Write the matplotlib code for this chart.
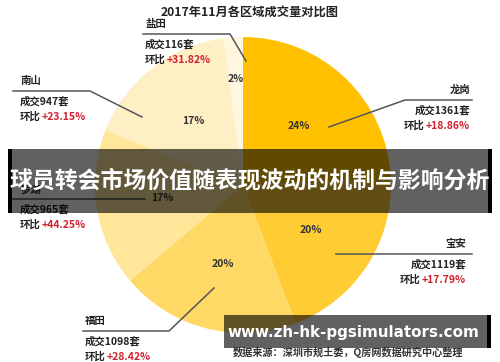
import matplotlib
matplotlib.use('Agg')
from matplotlib import pyplot as plt
from matplotlib.lines import Line2D
from matplotlib.patches import Rectangle

plt.rcParams['font.family'] = ['Noto Sans CJK SC', 'DejaVu Sans']

# data
districts = ['龙岗', '宝安', '福田', '罗湖', '南山', '盐田']
deals = [1361, 1119, 1098, 965, 947, 116]
mom = ['+18.86%', '+17.79%', '+28.42%', '+44.25%', '+23.15%', '+31.82%']
colors = ['#FFC000', '#FFCC33', '#FFD966', '#FFE699', '#FFEFC4', '#FFF6E0']

W, H = 500, 362
fig = plt.figure(figsize=(W / 100, H / 100), dpi=100)

def fx(x):
    return x / W

def fy(y):
    return 1 - y / H

# pie centred at (243, 185) px, radius 148 px
cx, cy, r = 243, 185, 148
ax = fig.add_axes([fx(cx - r), fy(cy + r), 2 * r / W, 2 * r / H])
wedges, texts, autotexts = ax.pie(deals, colors=colors, startangle=90, counterclock=False,
                                  autopct=lambda p: f'{p:.0f}%', pctdistance=0.55,
                                  wedgeprops=dict(linewidth=0),
                                  textprops=dict(fontsize=7.5, fontweight='bold', color='#333333'))
ax.set_xlim(-1, 1)
ax.set_ylim(-1, 1)
ax.set_aspect('auto')
ax.axis('off')
# the tiny slice label sits further out
t = autotexts[-1]
x0, y0 = t.get_position()
t.set_position((x0 / 0.55 * 0.72, y0 / 0.55 * 0.72))

fig.text(0.5, fy(12), '2017年11月各区域成交量对比图', ha='center', va='center',
         fontsize=8.8, fontweight='bold', color='#222222')

red = '#D0202E'
fs = 7.5
renderer = fig.canvas.get_renderer()

def add_line(pts):
    xs = [fx(p[0]) for p in pts]
    ys = [fy(p[1]) for p in pts]
    fig.add_artist(Line2D(xs, ys, color='#555555', lw=1.1))

def callout(i, x, line_y, pts, align='left', name_dy=10):
    kw = dict(fontsize=fs, fontweight='bold', va='center')
    add_line(pts)
    fig.text(fx(x), fy(line_y - name_dy), districts[i], ha=align, color='#222222', **kw)
    fig.text(fx(x), fy(line_y + 10), f'成交{deals[i]}套', ha=align, color='#222222', **kw)
    if align == 'left':
        a = fig.text(fx(x), fy(line_y + 26), '环比', ha='left', color='#222222', **kw)
        w = a.get_window_extent(renderer).width
        fig.text(fx(x + w + 1), fy(line_y + 26), mom[i], ha='left', color=red, **kw)
    else:
        b = fig.text(fx(x), fy(line_y + 26), mom[i], ha='right', color=red, **kw)
        w = b.get_window_extent(renderer).width
        fig.text(fx(x - w - 1), fy(line_y + 26), '环比', ha='right', color='#222222', **kw)

callout(5, 145, 34, [(143, 34), (230, 34), (246, 61)])
callout(4, 20, 91, [(13, 91), (90, 91), (142, 117)])
callout(0, 470, 100, [(472, 100), (405, 100), (329, 127)], align='right')
callout(3, 20, 199, [(12, 199), (145, 199)], name_dy=9)
callout(1, 466, 254, [(472, 254), (336, 254)], align='right')
callout(2, 85, 331, [(83, 331), (169, 331), (214, 288)])

# source note
fig.text(fx(233), fy(352), '数据来源：深圳市规土委，Q房网数据研究中心整理', ha='left', va='center',
         fontsize=7.3, fontweight='bold', color='#333333')

# overlay banner
fig.add_artist(Rectangle((fx(8), fy(213)), fx(484), 64 / H, transform=fig.transFigure,
                         facecolor='black', alpha=0.62, lw=0, zorder=5))
fig.add_artist(Rectangle((fx(8), fy(213)), fx(4), 64 / H, transform=fig.transFigure,
                         facecolor='black', lw=0, zorder=5))
fig.add_artist(Rectangle((fx(488), fy(213)), fx(4), 64 / H, transform=fig.transFigure,
                         facecolor='black', lw=0, zorder=5))
fig.text(0.5, fy(181), '球员转会市场价值随表现波动的机制与影响分析', ha='center', va='center',
         fontsize=16.5, fontweight='bold', color='white', zorder=6)

# watermark box
fig.add_artist(Rectangle((fx(224), fy(348)), fx(266), 33 / H, transform=fig.transFigure,
                         facecolor='black', alpha=0.62, lw=0, zorder=5))
fig.add_artist(Rectangle((fx(487), fy(348)), fx(4), 33 / H, transform=fig.transFigure,
                         facecolor='black', lw=0, zorder=5))
fig.text(fx(353), fy(332), 'www.zh-hk-pgsimulators.com', ha='center', va='center',
         fontsize=10.9, fontweight='bold', color='white', family='DejaVu Sans', zorder=6)

fig.savefig('out.png', dpi=100)
